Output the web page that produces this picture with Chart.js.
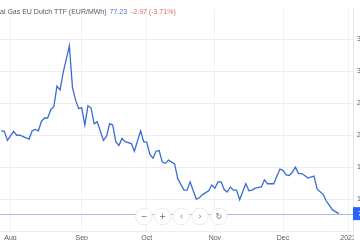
<!DOCTYPE html>
<html>
<head>
<meta charset="utf-8">
<script src="https://cdn.jsdelivr.net/npm/chart.js@4.4.0/dist/chart.umd.min.js"></script>
<style>
  html, body { margin: 0; padding: 0; background: #fff; }
  #wrap { width: 360px; height: 240px; position: relative; overflow: hidden; }
</style>
</head>
<body>
<div id="wrap"><canvas id="ttf"></canvas></div>
<script>
// trading-day index (0 = 1 Aug 2022) and close price, EUR/MWh
const days = [-3, -2, -1, 1, 2, 3, 6, 7, 8, 9, 10, 11, 12, 13, 14, 15, 16, 17, 18, 19, 20,
  21, 22, 23, 24, 25, 26, 27, 28, 30, 31, 32, 33, 34, 35, 36, 37, 39, 40, 42, 43, 44, 45, 46,
  47, 48, 49, 50, 51, 53, 54, 56, 57, 58, 59, 60, 61, 62, 64, 65, 66, 67, 68, 69, 70, 71, 72,
  73, 74, 75, 76, 77, 78, 79, 81, 82, 83, 85, 87, 88, 89, 90, 91, 92, 93, 94, 95, 96, 98, 99,
  101, 102, 104, 106];
const prices = [207, 206, 192, 206, 200, 200, 194, 207, 209, 207, 222, 227, 227, 240, 245, 277,
  271, 298, 319, 340, 275, 255, 242, 243, 216, 246, 243, 218, 221, 192, 198, 218, 216, 190, 184,
  195, 190, 187, 175, 207, 190, 189, 170, 164, 175, 176, 158, 156, 161, 155, 132, 114, 114, 127,
  113, 100, 102, 107, 113, 122, 117, 127, 127, 115, 111, 119, 114, 114, 99, 112, 124, 113, 114,
  117, 119, 130, 124, 124, 147, 145, 138, 137, 142, 150, 140, 140, 137, 133, 136, 116, 107, 97,
  83, 77.23];

const monthTicks = [0, 23, 44, 66, 88, 109];
const monthLabels = ['Aug', 'Sep', 'Oct', 'Nov', 'Dec', '2023'];
const priceTicks = [50, 100, 150, 200, 250, 300, 350];

const titleName = 'Natural Gas EU Dutch TTF (EUR/MWh)';
const lastPrice = 77.23;
const change = '-2.97 (-3.71%)';
const navButtons = ['\u2212', '+', '\u2039', '\u203A', '\u21BB'];

const FONT = "'Liberation Sans', Arial, sans-serif";

const overlay = {
  id: 'overlay',
  beforeDatasetsDraw(chart) {
    const { ctx, chartArea } = chart;
    const y = Math.round(chart.scales.y.getPixelForValue(lastPrice)) + 0.5;
    ctx.save();
    ctx.strokeStyle = '#a9bbe6';
    ctx.lineWidth = 1;
    ctx.beginPath();
    ctx.moveTo(chartArea.left, y);
    ctx.lineTo(chartArea.right, y);
    ctx.stroke();
    ctx.restore();
  },
  afterDraw(chart) {
    const { ctx, chartArea } = chart;
    ctx.save();

    // hide the part of the time axis under the price scale
    ctx.fillStyle = '#fff';
    ctx.fillRect(chartArea.right + 1, chartArea.bottom + 1, 10, 10);

    // last price tag
    const py = chart.scales.y.getPixelForValue(lastPrice);
    ctx.fillStyle = '#2962ff';
    ctx.fillRect(chartArea.right, py - 6.5, 10, 13);
    ctx.fillStyle = '#fff';
    ctx.font = '7px ' + FONT;
    ctx.textBaseline = 'middle';
    ctx.fillText(lastPrice.toFixed(2), chartArea.right + 5, py);

    // navigation buttons
    const cx0 = 144, step = 18.7, cy = 216.5;
    navButtons.forEach((g, i) => {
      const cx = cx0 + i * step;
      ctx.fillStyle = '#fff';
      ctx.strokeStyle = '#e9eaee';
      ctx.lineWidth = 1;
      ctx.beginPath();
      ctx.arc(cx, cy, 8.3, 0, Math.PI * 2);
      ctx.fill();
      ctx.stroke();
      ctx.fillStyle = '#6a6d78';
      ctx.font = '8px DejaVu Sans, ' + FONT;
      ctx.textAlign = 'center';
      ctx.textBaseline = 'middle';
      ctx.fillText(g, cx, cy);
    });

    // title row
    ctx.font = '7px ' + FONT;
    ctx.textAlign = 'left';
    ctx.textBaseline = 'middle';
    const ty = 12;
    let x = -ctx.measureText('Natur').width;
    ctx.fillStyle = '#55585f';
    ctx.fillText(titleName, x, ty);
    x += ctx.measureText(titleName + ' ').width + 1;
    ctx.fillStyle = '#4c78d8';
    ctx.fillText(lastPrice.toFixed(2), x, ty);
    x += ctx.measureText(lastPrice.toFixed(2) + ' ').width + 2;
    ctx.fillStyle = '#e0686a';
    ctx.fillText(change, x, ty);

    ctx.restore();
  }
};

new Chart(document.getElementById('ttf'), {
  type: 'line',
  data: {
    datasets: [{
      data: days.map((d, i) => ({ x: d, y: prices[i] })),
      borderColor: '#3b6cd3',
      borderWidth: 1.3,
      pointRadius: 0,
      tension: 0,
      fill: false
    }]
  },
  options: {
    responsive: true,
    maintainAspectRatio: false,
    animation: false,
    devicePixelRatio: 1,
    layout: { padding: 0 },
    plugins: {
      legend: { display: false },
      tooltip: { enabled: false }
    },
    scales: {
      x: {
        type: 'linear',
        min: -3.4,
        max: 110.6,
        afterBuildTicks: s => { s.ticks = monthTicks.map(v => ({ value: v })); },
        afterFit: s => { s.height = 9; },
        ticks: {
          autoSkip: false,
          maxRotation: 0,
          padding: 3,
          color: '#55585f',
          font: { size: 7, family: FONT },
          callback: v => monthLabels[monthTicks.indexOf(v)]
        },
        grid: { color: '#f0f2f6', drawTicks: false },
        border: { display: false }
      },
      y: {
        position: 'right',
        min: 50,
        max: 399,
        afterBuildTicks: s => { s.ticks = priceTicks.map(v => ({ value: v })); },
        afterFit: s => { s.width = 7; },
        ticks: {
          padding: 4,
          color: '#55585f',
          font: { size: 7, family: FONT },
          callback: v => (v >= 100 ? v : '')
        },
        grid: { color: '#eceef3', drawTicks: false },
        border: { color: '#e3e5ea' }
      }
    }
  },
  plugins: [overlay]
});
</script>
</body>
</html>
